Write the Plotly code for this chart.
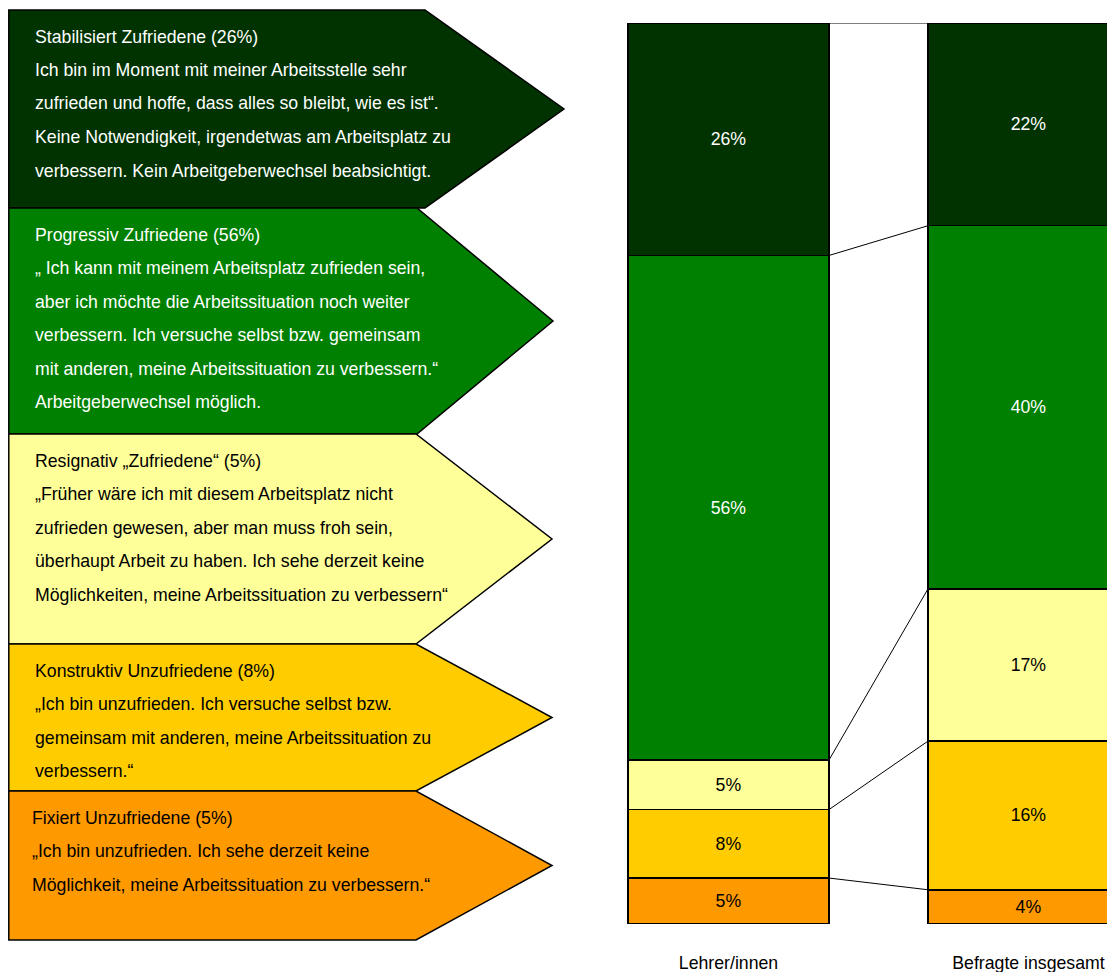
import numpy as np
import plotly.graph_objects as go

# --- data -----------------------------------------------------------------
groups = ["Lehrer/innen", "Befragte insgesamt"]

# order: top of the stack first (same order as the boxes on the left)
types = ["Stabilisiert Zufriedene", "Progressiv Zufriedene", "Resignativ Zufriedene",
         "Konstruktiv Unzufriedene", "Fixiert Unzufriedene"]
lehrer = [25.8, 56.0, 5.5, 7.6, 5.1]
befragte = [22.5, 40.3, 16.9, 16.5, 3.8]
lehrer_labels = ["26%", "56%", "5%", "8%", "5%"]
befragte_labels = ["22%", "40%", "17%", "16%", "4%"]

colors = ["#003300", "#008000", "#FFFF99", "#FFCC00", "#FF9900"]
text_colors = ["white", "white", "black", "black", "black"]

box_texts = [
    ["Stabilisiert Zufriedene (26%)",
     "Ich bin im Moment mit meiner Arbeitsstelle sehr",
     "zufrieden und hoffe, dass alles so bleibt, wie es ist“.",
     "Keine Notwendigkeit, irgendetwas am Arbeitsplatz zu",
     "verbessern. Kein Arbeitgeberwechsel beabsichtigt."],
    ["Progressiv Zufriedene (56%)",
     "„ Ich kann mit meinem Arbeitsplatz zufrieden sein,",
     "aber ich möchte die Arbeitssituation noch weiter",
     "verbessern. Ich versuche selbst bzw. gemeinsam",
     "mit anderen, meine Arbeitssituation zu verbessern.“",
     "Arbeitgeberwechsel möglich."],
    ["Resignativ „Zufriedene“ (5%)",
     "„Früher wäre ich mit diesem Arbeitsplatz nicht",
     "zufrieden gewesen, aber man muss froh sein,",
     "überhaupt Arbeit zu haben. Ich sehe derzeit keine",
     "Möglichkeiten, meine Arbeitssituation zu verbessern“"],
    ["Konstruktiv Unzufriedene (8%)",
     "„Ich bin unzufrieden. Ich versuche selbst bzw.",
     "gemeinsam mit anderen, meine Arbeitssituation zu",
     "verbessern.“"],
    ["Fixiert Unzufriedene (5%)",
     "„Ich bin unzufrieden. Ich sehe derzeit keine",
     "Möglichkeit, meine Arbeitssituation zu verbessern.“"],
]

# --- layout helpers --------------------------------------------------------
# the page puts the figure 8px in from the top-left corner,
# so the figure is 8px smaller and all page pixels are shifted by 8
OFF = 8
W, H = 1115 - OFF, 972 - OFF
FONT = "Liberation Sans, Arial, sans-serif"
FS = 17.7

box_edges = [10, 208, 434, 644, 791, 940]
box_corner = [425, 417, 416, 416, 416]
box_tip = [564, 553, 552, 552, 552]
box_left = 8.8


def px(x, y):
    # page pixel -> paper coordinate
    return (x - OFF) / W, 1 - (y - OFF) / H


fig = go.Figure()

# stacked bars, bottom series first
bar_w = 0.67
for i in reversed(range(len(types))):
    fig.add_trace(go.Bar(
        x=[0, 1],
        y=[lehrer[i], befragte[i]],
        name=types[i],
        width=bar_w,
        marker=dict(color=colors[i], line=dict(color="black", width=1.5)),
        text=[lehrer_labels[i], befragte_labels[i]],
        textposition="inside",
        insidetextanchor="middle",
        textangle=0,
        textfont=dict(family=FONT, size=FS, color=text_colors[i]),
        hoverinfo="skip",
    ))

# series lines between the two bars (top of every segment)
top_l = np.cumsum(lehrer[::-1])[::-1]
top_b = np.cumsum(befragte[::-1])[::-1]
for yl, yb in zip(top_l, top_b):
    fig.add_trace(go.Scatter(
        x=[bar_w / 2, 1 - bar_w / 2], y=[yl, yb],
        mode="lines", line=dict(color="black", width=1),
        hoverinfo="skip", showlegend=False,
    ))

# arrow boxes on the left
for i in range(len(types)):
    top, bot = box_edges[i], box_edges[i + 1]
    pts = [(box_left, top), (box_corner[i], top), (box_tip[i], (top + bot) / 2),
           (box_corner[i], bot), (box_left, bot)]
    path = "M " + " L ".join("{:.5f},{:.5f}".format(*px(x, y)) for x, y in pts) + " Z"
    fig.add_shape(type="path", path=path, xref="paper", yref="paper",
                  fillcolor=colors[i], line=dict(color="black", width=1.5))

    x0 = 30 if i == 4 else 33
    for j, line in enumerate(box_texts[i]):
        xa, ya = px(x0, top + 26.5 + 33.5 * j)
        fig.add_annotation(x=xa, y=ya, xref="paper", yref="paper",
                           text=line, showarrow=False,
                           xanchor="left", yanchor="middle",
                           font=dict(family=FONT, size=FS, color=text_colors[i]))

x_left = 578.5
fig.update_layout(
    width=W, height=H,
    margin=dict(l=0, r=0, t=0, b=0),
    barmode="stack",
    showlegend=False,
    plot_bgcolor="white",
    paper_bgcolor="white",
    uniformtext=dict(minsize=FS, mode="show"),
    xaxis=dict(
        domain=[px(x_left, 0)[0], 1],
        range=[-0.5, (1115 - x_left) / 300 - 0.5],
        tickvals=[0, 1], ticktext=groups,
        tickfont=dict(family=FONT, size=FS, color="black"),
        ticks="", ticklabelstandoff=26,
        showgrid=False, zeroline=False, showline=False,
    ),
    yaxis=dict(
        domain=[px(0, 924)[1], px(0, 23)[1]],
        range=[0, 100],
        visible=False,
    ),
)

fig.write_html("out.html")
